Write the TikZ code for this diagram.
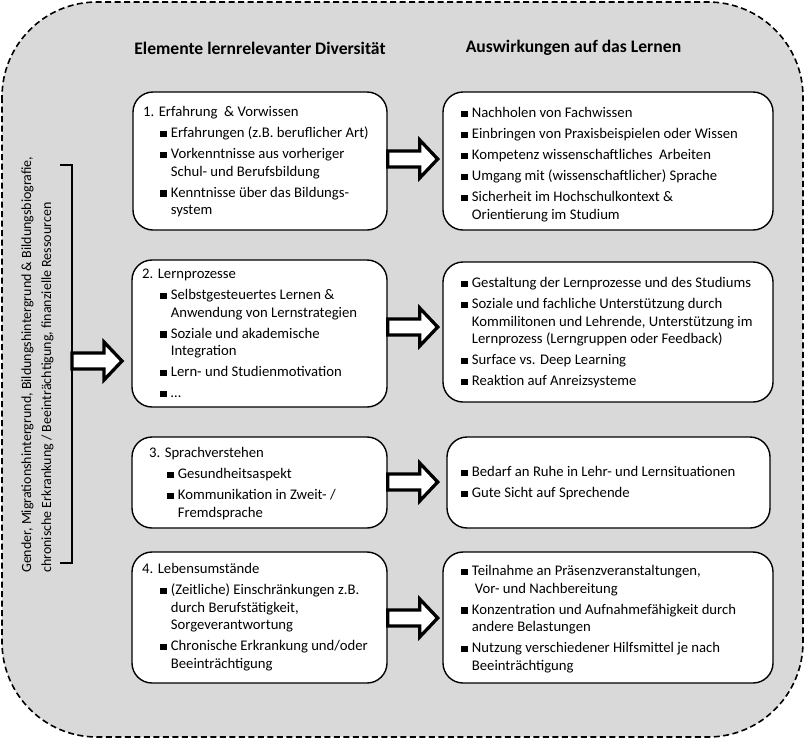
\documentclass[tikz,border=0pt]{standalone}
\usepackage{fontspec}
\setmainfont{Carlito}
\usetikzlibrary{calc}
\definecolor{bg}{RGB}{217,217,217}
\newcommand\bul{\raisebox{0.6pt}{\rule{6.5pt}{6.5pt}}\hspace{4.2pt}}
\newcommand\cnt{\hspace*{10.7pt}}
\newcommand\st{\rule{0pt}{12pt}}
\tikzset{
  outerbox/.style={draw, dashed, dash pattern=on 6pt off 3.5pt, line width=1.6pt, fill=bg, rounded corners=95pt},
  lbox/.style={draw, line width=1.4pt, fill=white, rounded corners=20pt, inner sep=0pt},
  txt/.style={inner sep=0pt, align=left, anchor=north west, font=\fontsize{14.7}{17.5}\selectfont},
  hdr/.style={inner sep=0pt, font=\fontsize{17.6}{20}\selectfont\bfseries},
  side/.style={inner sep=0pt, rotate=90, anchor=base west, font=\fontsize{14}{17}\selectfont},
  barrowline/.style={draw, fill=white, line width=3.3pt, miter limit=10},
  pics/blockarr/.style={code={
    \draw[barrowline] (0,-8) -- (32,-8) -- (32,-19) -- (50,0) -- (32,19) -- (32,8) -- (0,8) -- cycle;}}
}
\begin{document}
\begin{tikzpicture}[x=1pt,y=-1pt]
\useasboundingbox (0,0) rectangle (805,740);
\path[outerbox] (2,2) rectangle (803,737);

\node[hdr] (h1) at (260,48) {Elemente lernrelevanter Diversität};
\node[hdr] (h2) at (573.5,48) {Auswirkungen auf das Lernen};

% left boxes
\node[lbox, minimum width=254pt, minimum height=138pt] (L1) at (260,161) {};
\node[lbox, minimum width=255pt, minimum height=147pt] (L2) at (259.5,333.5) {};
\node[lbox, minimum width=255pt, minimum height=91pt] (L3) at (259.5,482.5) {};
\node[lbox, minimum width=255pt, minimum height=131pt] (L4) at (259.5,617.5) {};
% right boxes
\node[lbox, minimum width=330pt, minimum height=138pt] (R1) at (608,161) {};
\node[lbox, minimum width=330pt, minimum height=140pt] (R2) at (608,332) {};
\node[lbox, minimum width=323pt, minimum height=91pt] (R3) at (608.5,482.5) {};
\node[lbox, minimum width=330pt, minimum height=131pt] (R4) at (608,617.5) {};

% texts left
\node[txt] (tL1) at (143,104.5) {\st 1. Erfahrung \ \& Vorwissen\\[3.5pt]
\hspace*{17pt}\bul Erfahrungen (z.B. beruflicher Art)\\[3.5pt]
\hspace*{17pt}\bul Vorkenntnisse aus vorheriger\\
\hspace*{17pt}\cnt Schul- und Berufsbildung\\[3.5pt]
\hspace*{17pt}\bul Kenntnisse über das Bildungs-\\
\hspace*{17pt}\cnt system};
\node[txt] (tL2) at (142,266.5) {\st 2. Lernprozesse\\[3.5pt]
\hspace*{18pt}\bul Selbstgesteuertes Lernen \&\\
\hspace*{18pt}\cnt Anwendung von Lernstrategien\\[3.5pt]
\hspace*{18pt}\bul Soziale und akademische\\
\hspace*{18pt}\cnt Integration\\[3.5pt]
\hspace*{18pt}\bul Lern- und Studienmotivation\\[3.5pt]
\hspace*{18pt}\bul …};
\node[txt] (tL3) at (149,445.5) {\st 3. Sprachverstehen\\[3.5pt]
\hspace*{18pt}\bul Gesundheitsaspekt\\[3.5pt]
\hspace*{18pt}\bul Kommunikation in Zweit- /\\
\hspace*{18pt}\cnt Fremdsprache};
\node[txt] (tL4) at (142,561.5) {\st 4. Lebensumstände\\[3.5pt]
\hspace*{18pt}\bul (Zeitliche) Einschränkungen z.B.\\
\hspace*{18pt}\cnt durch Berufstätigkeit,\\
\hspace*{18pt}\cnt Sorgeverantwortung\\[3.5pt]
\hspace*{18pt}\bul Chronische Erkrankung und/oder\\
\hspace*{18pt}\cnt Beeinträchtigung};

% texts right
\node[txt] (tR1) at (461,105.5) {\st\bul Nachholen von Fachwissen\\[3.5pt]
\bul Einbringen von Praxisbeispielen oder Wissen\\[3.5pt]
\bul Kompetenz wissenschaftliches \ Arbeiten\\[3.5pt]
\bul Umgang mit (wissenschaftlicher) Sprache\\[3.5pt]
\bul Sicherheit im Hochschulkontext \&\\
\cnt Orientierung im Studium};
\node[txt] (tR2) at (461,275.5) {\st\bul Gestaltung der Lernprozesse und des Studiums\\[3.5pt]
\bul Soziale und fachliche Unterstützung durch\\
\cnt Kommilitonen und Lehrende, Unterstützung im\\
\cnt Lernprozess (Lerngruppen oder Feedback)\\[3.5pt]
\bul Surface vs. Deep Learning\\[3.5pt]
\bul Reaktion auf Anreizsysteme};
\node[txt] (tR3) at (461,464.5) {\st\bul Bedarf an Ruhe in Lehr- und Lernsituationen\\[3.5pt]
\bul Gute Sicht auf Sprechende};
\node[txt] (tR4) at (461,563.5) {\st\bul Teilnahme an Präsenzveranstaltungen,\\
\cnt\hspace*{3pt}Vor- und Nachbereitung\\[3.5pt]
\bul Konzentration und Aufnahmefähigkeit durch\\
\cnt andere Belastungen\\[3.5pt]
\bul Nutzung verschiedener Hilfsmittel je nach\\
\cnt Beeinträchtigung};

% side text and bracket
\node[side] (s1) at (31,573) {Gender, Migrationshintergrund, Bildungshintergrund \& Bildungsbiografie,};
\node[side] (s2) at (51,573) {chronische Erkrankung / Beeinträchtigung, finanzielle Ressourcen};
\coordinate (bt) at (60,165);
\coordinate (bb) at (60,563);
\coordinate (bm) at (72,361);
\draw[line width=1.4pt] (bt) -- (bt -| bm) -- (bb -| bm) -- (bb);
\path (bm) pic {blockarr};

% arrows between boxes
\path ($(L1.east)+(0,-2)$) pic {blockarr};
\path ($(L2.east)+(0,-6.5)$) pic {blockarr};
\path ($(L3.east)+(0,-0.5)$) pic {blockarr};
\path ($(L4.east)+(0,0.5)$) pic {blockarr};
\end{tikzpicture}
\end{document}
